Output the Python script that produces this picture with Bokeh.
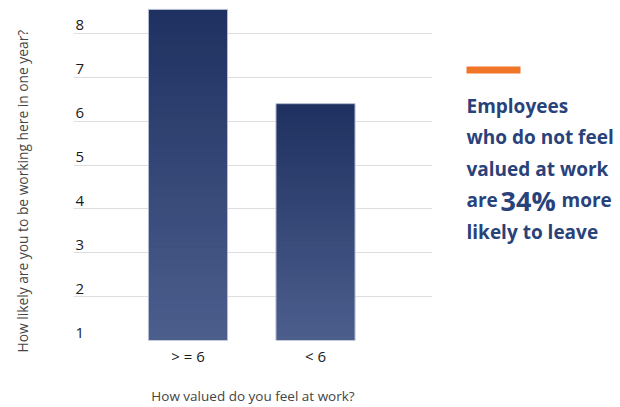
from bokeh.plotting import figure
from bokeh.layouts import row
from bokeh.models import Range1d, FixedTicker, Title
from bokeh.core.properties import value
from bokeh.embed import file_html
from bokeh.resources import INLINE

# ---- data ----
categories = ["> = 6", "< 6"]
scores = [8.55, 6.4]
y_ticks = [1, 2, 3, 4, 5, 6, 7, 8]
y_title = "How likely are you to be working here in one year?"
x_title = "How valued do you feel at work?"
note_lines = ["Employees", "who do not feel", "valued at work"]
note_pre = "are"
note_big = "34%"
note_post = "more"
note_last = "likely to leave"

FONT = "Open Sans"
TEXT_BLUE = "#29427a"
TOP_COL = (0x1f, 0x31, 0x60)
BOT_COL = (0x4b, 0x5e, 0x8c)

H = 407
W = 620
FL, FR, FT, FB = 73, 432, 8, 340          # chart frame edges in canvas pixels
UNIT = 127.5                              # pixels per category step
XC0 = 187.5                               # pixel centre of first category
XS = (FL - XC0) / UNIT
XE = (FR - XC0) / UNIT
YS, YE = 1, 8.57


def blank(f):
    f.outline_line_color = None
    f.background_fill_color = "white"
    f.border_fill_color = "white"
    f.xgrid.visible = False
    f.ygrid.visible = False
    f.xaxis.visible = False
    f.yaxis.visible = False


# ---- left strip holding the y title ----
left = figure(width=FL, height=H, x_range=Range1d(0, 1), y_range=Range1d(0, 1),
              output_backend="svg", toolbar_location=None,
              min_border_left=32, min_border_right=0,
              min_border_top=FT, min_border_bottom=H - FB)
blank(left)
left.add_layout(Title(text=y_title, align="left", offset=-12, vertical_align="middle",
                      standoff=0, text_font=FONT, text_font_size="13.8px",
                      text_font_style="normal", text_color="#444444"), "left")

# ---- chart ----
p = figure(width=FR - FL, height=H, x_range=Range1d(XS, XE), y_range=Range1d(YS, YE),
           output_backend="svg", toolbar_location=None,
           min_border_left=0, min_border_right=0,
           min_border_top=FT, min_border_bottom=H - FB)
p.outline_line_color = None
p.background_fill_color = "white"
p.border_fill_color = "white"
p.xgrid.visible = False
p.yaxis.visible = False
p.ygrid.ticker = FixedTicker(ticks=y_ticks)
p.ygrid.grid_line_color = "#dedede"
p.ygrid.grid_line_width = 1

xs = list(range(len(categories)))

# gradient bars built from overlapping slices of each bar
N = 50
gx, gb, gt, gc = [], [], [], []
for x, v in zip(xs, scores):
    base = y_ticks[0]
    step = (v - base) / N
    for k in range(N):
        frac = k / (N - 1)
        col = tuple(round(BOT_COL[i] + (TOP_COL[i] - BOT_COL[i]) * frac) for i in range(3))
        gx.append(x)
        gb.append(base + k * step)
        gt.append(min(v, base + (k + 1.6) * step))
        gc.append("#%02x%02x%02x" % col)
p.vbar(x=gx, bottom=gb, top=gt, width=0.62, fill_color=gc, line_color=None)
p.vbar(x=xs, bottom=y_ticks[0], top=scores, width=0.62, fill_color=None,
       line_color="#b4bdd3", line_width=1)

# y tick labels above each gridline
p.text(x=[XS] * len(y_ticks), y=y_ticks, text=[str(t) for t in y_ticks],
       x_offset=2, y_offset=-8, text_align="left", text_baseline="alphabetic",
       text_font=value(FONT), text_font_size="15px", text_color="#1a1a1a")

ax = p.xaxis[0]
ax.ticker = FixedTicker(ticks=xs)
ax.major_label_overrides = {i: c for i, c in zip(xs, categories)}
ax.axis_line_color = None
ax.major_tick_line_color = None
ax.minor_tick_line_color = None
ax.major_tick_out = 0
ax.major_tick_in = 0
ax.major_label_standoff = 5
ax.major_label_text_font = FONT
ax.major_label_text_font_size = "15px"
ax.major_label_text_color = "#1a1a1a"
ax.axis_label = x_title
ax.axis_label_text_font = FONT
ax.axis_label_text_font_size = "13.5px"
ax.axis_label_text_font_style = "normal"
ax.axis_label_text_color = "#444444"
ax.axis_label_standoff = 18

# ---- note panel ----
n = figure(width=W - FR, height=H, x_range=Range1d(FR, W),
           y_range=Range1d(FB, FT), output_backend="svg", toolbar_location=None,
           min_border_left=0, min_border_right=0,
           min_border_top=FT, min_border_bottom=H - FB)
blank(n)
n.quad(left=[466], right=[520], top=[66], bottom=[73], fill_color="#f07528",
       line_color=None)
baselines = [111, 142.5, 174, 205.5, 237]
kw = dict(text_align="left", text_baseline="alphabetic", text_font=value(FONT),
          text_font_style="bold", text_color=TEXT_BLUE, y_offset=-6)
n.text(x=[466] * len(note_lines), y=baselines[:len(note_lines)], text=note_lines,
       text_font_size="19px", **kw)
n.text(x=[466], y=[baselines[3]], text=[note_pre], text_font_size="19px", **kw)
n.text(x=[500], y=[baselines[3]], text=[note_big], text_font_size="27px", **kw)
n.text(x=[561], y=[baselines[3]], text=[note_post], text_font_size="19px", **kw)
n.text(x=[466], y=[baselines[4]], text=[note_last], text_font_size="19px", **kw)

layout = row(left, p, n, spacing=0)
open("out.html", "w").write(file_html(layout, INLINE))
